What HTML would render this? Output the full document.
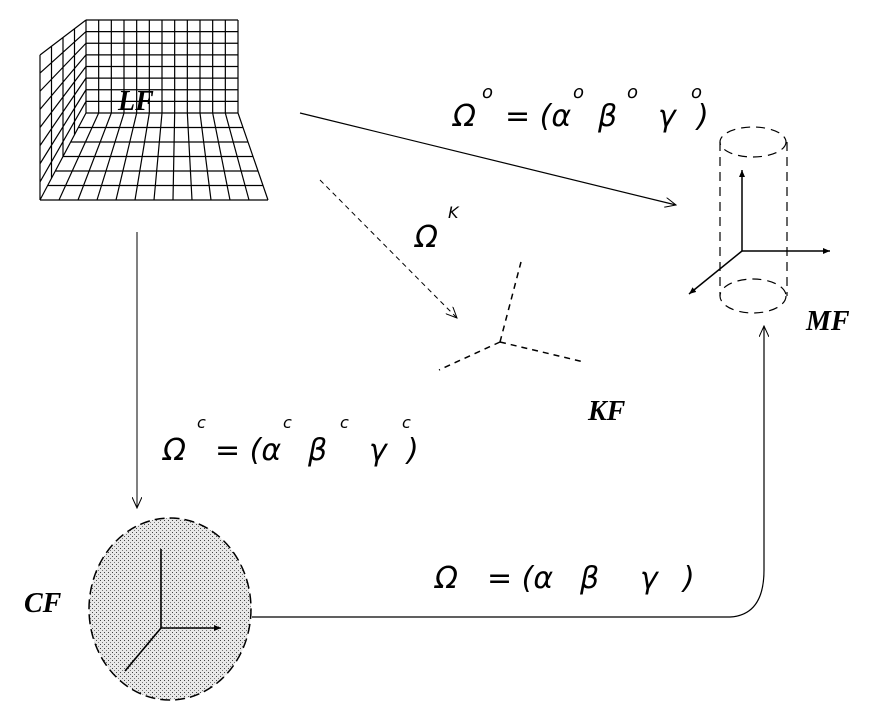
<!DOCTYPE html>
<html><head><style>body{margin:0;background:#fff}svg{display:block}
.t{font-family:"DejaVu Sans","Liberation Sans",sans-serif;font-style:italic;font-weight:200;fill:#000}
.b{font-family:"Liberation Serif",serif;font-style:italic;font-weight:bold;fill:#000}
</style></head><body>
<svg width="888" height="725" viewBox="0 0 888 725" xmlns="http://www.w3.org/2000/svg">
<defs>
<pattern id="dots" width="4" height="4" patternUnits="userSpaceOnUse"><rect width="4" height="4" fill="#e8e8e8"/><rect x="0" y="0" width="1" height="1" fill="#444"/><rect x="2" y="2" width="1" height="1" fill="#777"/></pattern>
<marker id="ar" markerWidth="12" markerHeight="10" refX="11" refY="5" orient="auto" markerUnits="userSpaceOnUse"><path d="M0,0 L11,5 L0,10" fill="none" stroke="#000" stroke-width="1"/></marker>
<marker id="af" markerWidth="8" markerHeight="6" refX="7" refY="3" orient="auto" markerUnits="userSpaceOnUse"><path d="M0,0 L7,3 L0,6z" fill="#000"/></marker>
</defs>
<path stroke="#000" stroke-width="1.2" fill="none" d="
M86,20V113L40,200 M98.67,20V113L59,200 M111.33,20V113L78,200 M124,20V113L97,200 M136.67,20V113L116,200 M149.33,20V113L135,200 M162,20V113L154,200 M174.67,20V113L173,200 M187.33,20V113L192,200 M200,20V113L211,200 M212.67,20V113L230,200 M225.33,20V113L249,200 M238,20V113L268,200
M86,20H238 M86,31.6H238 M86,43.25H238 M86,54.9H238 M86,66.5H238 M86,78.1H238 M86,89.75H238 M86,101.4H238 M86,113H238
M40,55L86,20 M40,73.1L86,31.6 M40,91.25L86,43.25 M40,109.4L86,54.9 M40,127.5L86,66.5 M40,145.6L86,78.1 M40,163.75L86,89.75 M40,181.9L86,101.4
M40,55V200 M51.5,46.25V178.25 M63,37.5V156.5 M74.5,28.75V134.75
M78.33,127.5H243 M70.67,142H248 M63,156.5H253 M55.33,171H258 M47.67,185.5H263 M40,200H268"/>
<text class="b" x="118" y="110" font-size="28">LF</text>
<line x1="300" y1="113" x2="676" y2="205" stroke="#000" stroke-width="1.2" marker-end="url(#ar)"/>
<line x1="320" y1="180" x2="457" y2="318" stroke="#000" stroke-width="1" stroke-dasharray="5,4" marker-end="url(#ar)"/>
<line x1="137" y1="232" x2="137" y2="508" stroke="#000" stroke-width="1" marker-end="url(#ar)"/>
<path d="M252,617 L730,617 Q764,615 764,570 L764,326" fill="none" stroke="#000" stroke-width="1.2" marker-end="url(#ar)"/>
<g stroke="#000" stroke-width="1.2" fill="none" stroke-dasharray="9,6">
<ellipse cx="753" cy="142" rx="33" ry="15"/>
<ellipse cx="753" cy="296" rx="33" ry="17"/>
<line x1="720" y1="142" x2="720" y2="296"/>
<line x1="787" y1="142" x2="787" y2="296"/>
</g>
<g stroke="#000" stroke-width="1.5" fill="none">
<line x1="742" y1="251" x2="742" y2="170" marker-end="url(#af)"/>
<line x1="742" y1="251" x2="830" y2="251" marker-end="url(#af)"/>
<line x1="742" y1="251" x2="689" y2="294" marker-end="url(#af)"/>
</g>
<text class="b" x="806" y="330" font-size="28">MF</text>
<g stroke="#000" stroke-width="1.5" fill="none" stroke-dasharray="6,5">
<line x1="500" y1="342" x2="521" y2="262"/>
<line x1="500" y1="342" x2="584" y2="362"/>
<line x1="500" y1="342" x2="439" y2="370"/>
</g>
<text class="b" x="588" y="420" font-size="28">KF</text>
<ellipse cx="170" cy="609" rx="81" ry="91" fill="url(#dots)" stroke="#000" stroke-width="1.5" stroke-dasharray="10,5"/>
<g stroke="#000" stroke-width="1.6" fill="none">
<line x1="161" y1="628" x2="161" y2="549"/>
<line x1="161" y1="628" x2="221" y2="628" marker-end="url(#af)"/>
<line x1="161" y1="628" x2="125" y2="671"/>
</g>
<text class="b" x="24" y="612" font-size="28">CF</text>
<text class="t" x="453" y="126" font-size="30">Ω</text><text class="t" x="482" y="98" font-size="18">o</text>
<text class="t" x="505" y="126" font-size="30">= (α</text><text class="t" x="573" y="98" font-size="18">o</text>
<text class="t" x="598" y="126" font-size="30">β</text><text class="t" x="627" y="98" font-size="18">o</text>
<text class="t" x="658" y="126" font-size="30">γ</text><text class="t" x="691" y="98" font-size="18">o</text>
<text class="t" x="697" y="126" font-size="30">)</text>
<text class="t" x="415" y="247" font-size="30">Ω</text><text class="t" x="448" y="218" font-size="16">K</text>
<text class="t" x="163" y="460" font-size="30">Ω</text><text class="t" x="197" y="428" font-size="16">c</text>
<text class="t" x="215" y="460" font-size="30">= (α</text><text class="t" x="283" y="428" font-size="16">c</text>
<text class="t" x="308" y="460" font-size="30">β</text><text class="t" x="340" y="428" font-size="16">c</text>
<text class="t" x="369" y="460" font-size="30">γ</text><text class="t" x="402" y="428" font-size="16">c</text>
<text class="t" x="407" y="460" font-size="30">)</text>
<text class="t" x="435" y="588" font-size="30">Ω</text>
<text class="t" x="487" y="588" font-size="30">= (α</text>
<text class="t" x="580" y="588" font-size="30">β</text>
<text class="t" x="640" y="588" font-size="30">γ</text>
<text class="t" x="683" y="588" font-size="30">)</text>
</svg>
</body></html>
